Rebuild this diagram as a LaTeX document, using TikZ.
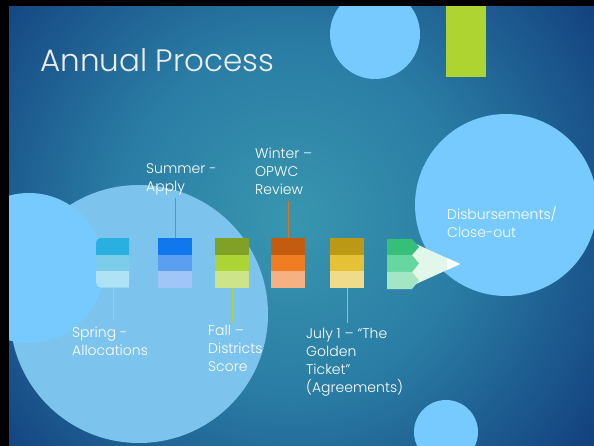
\documentclass[tikz,border=0pt]{standalone}
\usepackage{fontspec}
\setmainfont{Poppins Light}
\usetikzlibrary{calc}

\definecolor{bginner}{RGB}{56,150,175}
\definecolor{bgmid}{RGB}{42,125,165}
\definecolor{bgouter}{RGB}{15,55,120}
\definecolor{bgedge}{RGB}{11,42,104}
% stops in the 100bp box, stretched over the shaded rectangle
\pgfdeclareradialshading{slidebg}{\pgfpoint{0bp}{0bp}}{color(0bp)=(bginner); color(14bp)=(bgmid); color(33bp)=(bgouter); color(50bp)=(bgedge)}
\definecolor{circlight}{RGB}{118,202,254}
\definecolor{circbig}{RGB}{124,196,238}
\definecolor{limegreen}{RGB}{173,212,49}
\definecolor{arrowpale}{RGB}{226,246,234}
\definecolor{titlegrey}{RGB}{237,237,237}
\definecolor{springA}{RGB}{41,176,224}
\definecolor{springB}{RGB}{123,205,234}
\definecolor{springC}{RGB}{174,226,244}
\definecolor{summerA}{RGB}{17,119,236}
\definecolor{summerB}{RGB}{91,160,240}
\definecolor{summerC}{RGB}{160,198,247}
\definecolor{fallA}{RGB}{128,161,38}
\definecolor{fallB}{RGB}{173,212,53}
\definecolor{fallC}{RGB}{206,228,138}
\definecolor{winterA}{RGB}{196,92,16}
\definecolor{winterB}{RGB}{240,125,34}
\definecolor{winterC}{RGB}{246,177,131}
\definecolor{julyA}{RGB}{188,153,20}
\definecolor{julyB}{RGB}{228,193,53}
\definecolor{julyC}{RGB}{239,219,138}
\definecolor{disbA}{RGB}{53,191,121}
\definecolor{disbB}{RGB}{103,214,160}
\definecolor{disbC}{RGB}{162,230,196}
\definecolor{springline}{RGB}{143,211,227}
\definecolor{summerline}{RGB}{76,148,232}
\definecolor{fallline}{RGB}{179,211,52}
\definecolor{winterline}{RGB}{224,116,30}
\definecolor{julyline}{RGB}{230,181,34}

\begin{document}
\begin{tikzpicture}[x=1pt,y=-1pt,
  blk/.style={draw=none,minimum width=34pt,minimum height=16.5pt,inner sep=0pt,anchor=north west},
  lbl/.style={text=white,font=\fontsize{14}{18}\selectfont,align=left,anchor=north west,inner sep=0pt},
  tick/.style={line width=1pt}]
\useasboundingbox (0,0) rectangle (594,446);
\fill[black] (0,0) rectangle (594,446);
\begin{scope}
\clip (9,7) rectangle (594,446);
\shade[shading=slidebg] (-20,-90) rectangle (600,530);
% circles and the green bar
\fill[circlight] (375,34) circle[radius=45];
\fill[limegreen] (446,5) rectangle (486,77);
\fill[circlight] (506,205) circle[radius=91];
\fill[circlight] (446,432) circle[radius=32];
\fill[circbig] (139,314) circle[radius=129];
\fill[circlight] (29,268) circle[radius=75];
\end{scope}

\node[text=titlegrey,font=\fontsize{31}{36}\selectfont,anchor=base west,inner sep=0pt] (title) at (40,72) {Annual Process};

% spring
\begin{scope}
\clip (129,238) [rounded corners=5pt] -- (96,238) -- (96,287.5) [sharp corners] -- (129,287.5) -- cycle;
\node[blk,fill=springA] (c1a) at (96,238) {};
\node[blk,fill=springB] (c1b) at (96,254.5) {};
\node[blk,fill=springC] (c1c) at (96,271) {};
\end{scope}
% summer
\node[blk,fill=summerA] (c2a) at (158,238) {};
\node[blk,fill=summerB] (c2b) at (158,254.5) {};
\node[blk,fill=summerC] (c2c) at (158,271) {};
% fall
\node[blk,fill=fallA] (c3a) at (215,238) {};
\node[blk,fill=fallB] (c3b) at (215,254.5) {};
\node[blk,fill=fallC] (c3c) at (215,271) {};
% winter
\node[blk,fill=winterA] (c4a) at (271,238) {};
\node[blk,fill=winterB] (c4b) at (271,254.5) {};
\node[blk,fill=winterC] (c4c) at (271,271) {};
% july
\node[blk,fill=julyA] (c5a) at (330,238) {};
\node[blk,fill=julyB] (c5b) at (330,254.5) {};
\node[blk,fill=julyC] (c5c) at (330,271) {};
% last column, pointing to the big circle
\fill[arrowpale] (405,239) -- (460,264) -- (405,289) -- cycle;
\fill[white] (447,258) -- (460,264) -- (447,270) -- cycle;
\fill[disbA] (387,239) -- (412,239) -- (419,247) -- (412,255) -- (387,255) -- cycle;
\fill[disbB] (387,255) -- (412,255) -- (419,263.5) -- (412,272) -- (387,272) -- cycle;
\fill[disbC] (387,272) -- (412,272) -- (419,280.5) -- (412,289) -- (387,289) -- cycle;

% labels
\node[lbl] (lspring) at (72,327) {Spring -\\Allocations};
\node[lbl] (lsummer) at (146,163) {Summer -\\Apply};
\node[lbl] (lfall) at (208,325) {Fall –\\Districts\\Score};
\node[lbl] (lwinter) at (255,148) {Winter –\\OPWC\\Review};
\node[lbl] (ljuly) at (306,328) {July 1 – “The\\Golden\\Ticket\char"22\\(Agreements)};
\node[lbl] (ldisb) at (447,206) {Disbursements/\\Close-out};

% connectors
\draw[tick,springline,shorten >=7pt] (c1c.south) -- (c1c.south |- lspring.north);
\draw[tick,summerline,shorten >=3pt] (c2a.north) -- (c2a.north |- lsummer.south);
\draw[tick,fallline,shorten >=2pt] (c3c.south) -- (c3c.south |- lfall.north);
\draw[tick,winterline,shorten >=6pt] (c4a.north) -- (c4a.north |- lwinter.south);
\draw[tick,julyline,shorten >=5pt] (c5c.south) -- (c5c.south |- ljuly.north);
\end{tikzpicture}
\end{document}
